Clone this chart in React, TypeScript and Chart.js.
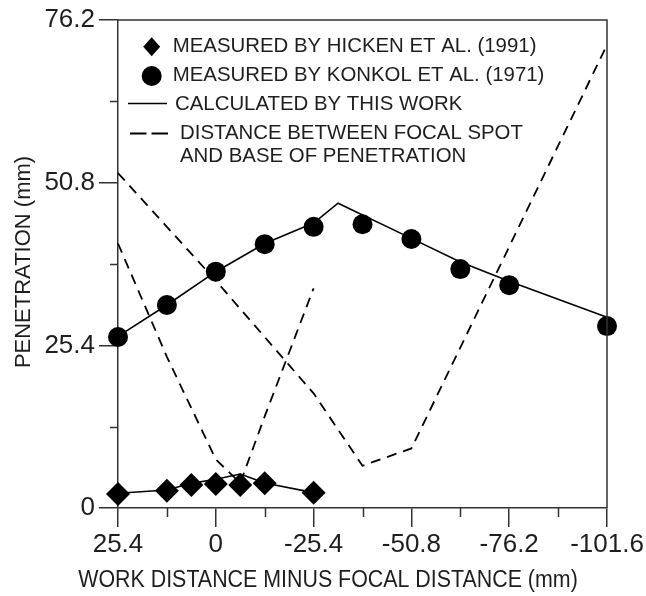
import React, { useEffect, useRef } from 'react';
import { Chart, registerables } from 'chart.js';

Chart.register(...registerables);

// ---- data ----
const X_TICKS = [25.4, 0, -25.4, -50.8, -76.2, -101.6];
const X_TICK_LABELS = ['25.4', '0', '-25.4', '-50.8', '-76.2', '-101.6'];
const X_MINOR = [12.7, -12.7, -38.1, -63.5, -88.9];
const Y_TICKS = [0, 25.4, 50.8, 76.2];
const Y_TICK_LABELS = ['0', '25.4', '50.8', '76.2'];
const Y_MINOR = [12.7, 38.1, 63.5];

const HICKEN_X = [25.4, 12.7, 6.35, 0, -6.35, -12.7, -25.4];
const HICKEN_Y = [2.2, 2.7, 3.6, 3.75, 3.6, 3.85, 2.4];

const KONKOL_X = [25.4, 12.7, 0, -12.7, -25.4, -38.1, -50.8, -63.5, -76.2, -101.6];
const KONKOL_Y = [26.7, 31.7, 36.9, 41.2, 43.9, 44.3, 42.0, 37.3, 34.8, 28.4];

const CALC_HICKEN_X = [25.4, 12.7, 6.35, 0, -6.35, -12.7, -25.4];
const CALC_HICKEN_Y = [2.3, 2.8, 3.85, 4.5, 5.3, 3.9, 2.4];

const CALC_KONKOL_X = [25.4, 12.7, 0, -12.7, -25.4, -31.75, -50.8, -63.5, -76.2, -101.6];
const CALC_KONKOL_Y = [26.8, 31.7, 36.9, 41.3, 44.5, 47.6, 42.1, 38.4, 35.4, 29.8];

const DIST_HICKEN_X = [25.4, 12.7, 0, -6.35, -12.7, -25.4];
const DIST_HICKEN_Y = [41.3, 23.6, 7.6, 3.9, 14.3, 34.3];

const DIST_KONKOL_X = [25.4, 0, -25.4, -38.1, -50.8, -101.6];
const DIST_KONKOL_Y = [52.3, 35.5, 17.9, 6.6, 9.3, 72.3];

const LEGEND_LABELS = [
  'MEASURED BY HICKEN ET AL. (1991)',
  'MEASURED BY KONKOL ET AL. (1971)',
  'CALCULATED BY THIS WORK',
  'DISTANCE BETWEEN FOCAL SPOT',
  'AND BASE OF PENETRATION',
];
const X_TITLE = 'WORK DISTANCE MINUS FOCAL DISTANCE (mm)';
const Y_TITLE = 'PENETRATION (mm)';

// ---- styles ----
const FONT = "'Liberation Sans', Arial, Helvetica, sans-serif";
const AXIS_COLOR = '#333333';
const TEXT_COLOR = '#1e1e1e';
const MARK_COLOR = '#000000';
const DASH = [10, 7];

const pts = (xs: number[], ys: number[]) => xs.map((x, i) => ({ x, y: ys[i] }));

const decorPlugin = {
  id: 'decor',
  afterDraw(chart: any) {
    const ctx = chart.ctx as CanvasRenderingContext2D;
    const { left, right, top, bottom } = chart.chartArea;
    const xs = chart.scales.x;
    const ys = chart.scales.y;
    ctx.save();
    // frame
    ctx.strokeStyle = AXIS_COLOR;
    ctx.lineWidth = 1.5;
    ctx.beginPath();
    ctx.moveTo(left, top);
    ctx.lineTo(right, top);
    ctx.lineTo(right, bottom);
    ctx.stroke();
    // minor ticks
    ctx.beginPath();
    X_MINOR.forEach((v) => {
      const px = Math.round(xs.getPixelForValue(v)) + 0.5;
      ctx.moveTo(px, bottom);
      ctx.lineTo(px, bottom + 9);
    });
    Y_MINOR.forEach((v) => {
      const py = Math.round(ys.getPixelForValue(v)) + 0.5;
      ctx.moveTo(left, py);
      ctx.lineTo(left - 8, py);
    });
    ctx.stroke();

    // axis titles
    ctx.fillStyle = TEXT_COLOR;
    ctx.textAlign = 'center';
    ctx.textBaseline = 'middle';
    ctx.save();
    ctx.font = `23px ${FONT}`;
    ctx.translate(328, 581);
    ctx.scale(0.93, 1);
    ctx.fillText(X_TITLE, 0, 0);
    ctx.restore();
    ctx.save();
    ctx.font = `22px ${FONT}`;
    ctx.translate(24, 262);
    ctx.rotate(-Math.PI / 2);
    ctx.fillText(Y_TITLE, 0, 0);
    ctx.restore();

    // legend
    ctx.font = `20.4px ${FONT}`;
    ctx.textAlign = 'left';
    ctx.fillStyle = MARK_COLOR;
    // diamond
    ctx.beginPath();
    ctx.moveTo(151.7, 46.7 - 9.5);
    ctx.lineTo(151.7 + 8.5, 46.7);
    ctx.lineTo(151.7, 46.7 + 9.5);
    ctx.lineTo(151.7 - 8.5, 46.7);
    ctx.closePath();
    ctx.fill();
    // circle
    ctx.beginPath();
    ctx.arc(151.7, 76, 10, 0, Math.PI * 2);
    ctx.fill();
    // solid line
    ctx.strokeStyle = MARK_COLOR;
    ctx.lineWidth = 1.5;
    ctx.beginPath();
    ctx.moveTo(128, 103.5);
    ctx.lineTo(167, 103.5);
    ctx.stroke();
    // dashed
    ctx.lineWidth = 1.8;
    ctx.beginPath();
    ctx.moveTo(130, 133.5);
    ctx.lineTo(146.5, 133.5);
    ctx.moveTo(151.5, 133.5);
    ctx.lineTo(168, 133.5);
    ctx.stroke();

    ctx.fillStyle = TEXT_COLOR;
    ctx.fillText(LEGEND_LABELS[0], 172.7, 46);
    ctx.fillText(LEGEND_LABELS[1], 172.7, 75);
    ctx.fillText(LEGEND_LABELS[2], 175, 104);
    ctx.fillText(LEGEND_LABELS[3], 180, 133);
    ctx.fillText(LEGEND_LABELS[4], 180, 156);
    ctx.restore();
  },
};

export default function App() {
  const ref = useRef<HTMLCanvasElement | null>(null);

  useEffect(() => {
    if (!ref.current) return;
    Chart.defaults.font.family = FONT;
    const chart = new Chart(ref.current, {
      type: 'line',
      data: {
        datasets: [
          {
            label: LEGEND_LABELS[0],
            data: pts(HICKEN_X, HICKEN_Y),
            showLine: false,
            clip: false,
            pointStyle: 'rectRot',
            pointRadius: 12,
            pointBackgroundColor: MARK_COLOR,
            pointBorderColor: MARK_COLOR,
            pointBorderWidth: 0,
          },
          {
            label: LEGEND_LABELS[1],
            data: pts(KONKOL_X, KONKOL_Y),
            showLine: false,
            clip: false,
            pointStyle: 'circle',
            pointRadius: 10,
            pointBackgroundColor: MARK_COLOR,
            pointBorderColor: MARK_COLOR,
            pointBorderWidth: 0,
          },
          {
            label: 'calc hicken',
            data: pts(CALC_HICKEN_X, CALC_HICKEN_Y),
            borderColor: MARK_COLOR,
            borderWidth: 1.6,
            pointRadius: 0,
            clip: false,
            tension: 0,
          },
          {
            label: 'calc konkol',
            data: pts(CALC_KONKOL_X, CALC_KONKOL_Y),
            borderColor: MARK_COLOR,
            borderWidth: 1.6,
            pointRadius: 0,
            clip: false,
            tension: 0,
          },
          {
            label: 'dist hicken',
            data: pts(DIST_HICKEN_X, DIST_HICKEN_Y),
            borderColor: MARK_COLOR,
            borderWidth: 1.8,
            borderDash: DASH,
            pointRadius: 0,
            clip: false,
            tension: 0,
          },
          {
            label: 'dist konkol',
            data: pts(DIST_KONKOL_X, DIST_KONKOL_Y),
            borderColor: MARK_COLOR,
            borderWidth: 1.8,
            borderDash: DASH,
            pointRadius: 0,
            clip: false,
            tension: 0,
          },
        ],
      },
      options: {
        animation: false,
        responsive: false,
        devicePixelRatio: 1,
        layout: { padding: { top: 20, right: 39, left: 0, bottom: 0 } },
        plugins: {
          legend: { display: false },
          tooltip: { enabled: false },
          title: { display: false },
        },
        scales: {
          x: {
            type: 'linear',
            reverse: true,
            min: -101.6,
            max: 25.4,
            afterBuildTicks: (scale: any) => {
              scale.ticks = X_TICKS.map((v) => ({ value: v }));
            },
            afterFit: (scale: any) => {
              scale.height = 88;
            },
            ticks: {
              autoSkip: false,
              maxRotation: 0,
              minRotation: 0,
              padding: 2,
              color: TEXT_COLOR,
              font: { size: 26, family: FONT },
              callback: (_v: any, i: number) => X_TICK_LABELS[i],
            },
            grid: {
              display: true,
              drawOnChartArea: false,
              drawTicks: true,
              tickLength: 19,
              color: AXIS_COLOR,
              lineWidth: 1.5,
            },
            border: { display: true, color: AXIS_COLOR, width: 1.5 },
          },
          y: {
            type: 'linear',
            min: 0,
            max: 76.2,
            afterBuildTicks: (scale: any) => {
              scale.ticks = Y_TICKS.map((v) => ({ value: v }));
            },
            afterFit: (scale: any) => {
              scale.width = 118;
            },
            ticks: {
              autoSkip: false,
              padding: 4,
              color: TEXT_COLOR,
              font: { size: 26, family: FONT },
              callback: (_v: any, i: number) => Y_TICK_LABELS[i],
            },
            grid: {
              display: true,
              drawOnChartArea: false,
              drawTicks: true,
              tickLength: 19,
              color: AXIS_COLOR,
              lineWidth: 1.5,
            },
            border: { display: true, color: AXIS_COLOR, width: 1.5 },
          },
        },
      },
      plugins: [decorPlugin],
    } as any);
    return () => chart.destroy();
  }, []);

  return (
    <div style={{ position: 'absolute', left: 0, top: 0, width: 646, height: 596, background: '#fff' }}>
      <canvas ref={ref} width={646} height={596} style={{ display: 'block' }} />
    </div>
  );
}
